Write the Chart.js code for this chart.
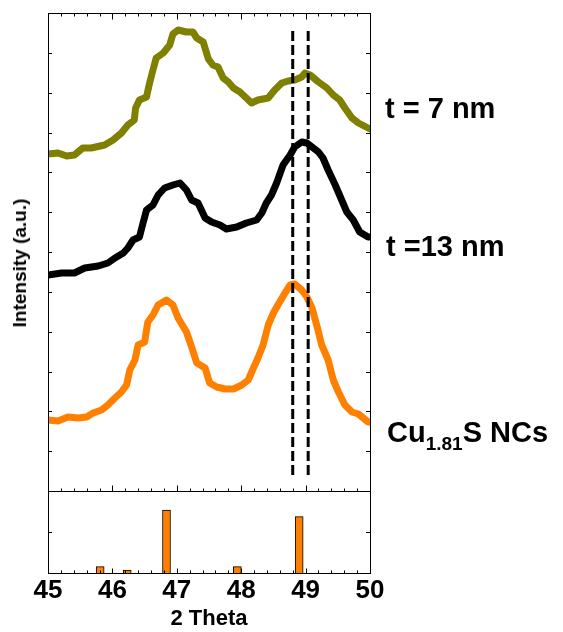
<!DOCTYPE html>
<html>
<head>
<meta charset="utf-8">
<script src="https://cdn.jsdelivr.net/npm/chart.js@4.4.1/dist/chart.umd.min.js"></script>
<style>
  html, body { margin: 0; padding: 0; background: #fff; }
  body { width: 563px; height: 632px; position: relative; overflow: hidden;
         font-family: "Liberation Sans", Arial, sans-serif; }
  #top { position: absolute; left: 0; top: 0; }
  #bot { position: absolute; left: 0; top: 480px; }
  .lbl { position: absolute; font-weight: bold; font-size: 29px; line-height: 28px;
         color: #000; white-space: nowrap; }
  .lbl sub { font-size: 19px; vertical-align: -8px; line-height: 0; }
  #ytitle { position: absolute; left: 20px; top: 263px; font-weight: bold; font-size: 19px;
            line-height: 22px; white-space: nowrap; color: #000;
            transform: translate(-50%, -50%) rotate(-90deg); }
</style>
</head>
<body>
<canvas id="top" width="563" height="496"></canvas>
<canvas id="bot" width="563" height="152"></canvas>
<div id="ytitle">Intensity (a.u.)</div>
<div class="lbl" style="left:385px; top:94px;">t = 7 nm</div>
<div class="lbl" style="left:386px; top:232px;">t =13 nm</div>
<div class="lbl" style="left:387px; top:418px;">Cu<sub>1.81</sub>S NCs</div>
<script>
// ---- data (2 Theta, intensity a.u.) ----
const theta7 = [45.00,45.155,45.29,45.41,45.54,45.67,45.88,46.01,46.14,46.24,46.34,46.36,46.42,46.53,46.57,46.63,46.68,46.79,46.89,46.94,47.02,47.15,47.25,47.31,47.41,47.49,47.56,47.64,47.72,47.80,47.88,47.98,48.08,48.16,48.26,48.42,48.52,48.63,48.73,48.83,48.94,48.99,49.07,49.20,49.33,49.43,49.53,49.61,49.72,49.82,49.97,50.00];
const int7   = [337,338,335,336,343,343,346,351,358,366,371,383,391,394,406,421,433,438,446,457,461,459,459,453,449,432,426,424,413,409,403,399,393,388,391,393,401,408,410,411,414,418,416,409,403,396,391,383,373,368,363,362];

const theta13 = [45.00,45.21,45.41,45.57,45.78,45.93,46.04,46.17,46.24,46.32,46.42,46.48,46.53,46.63,46.71,46.81,46.94,47.05,47.15,47.23,47.33,47.44,47.54,47.67,47.77,47.93,48.08,48.24,48.32,48.39,48.47,48.55,48.65,48.76,48.83,48.94,49.02,49.10,49.20,49.27,49.35,49.46,49.56,49.64,49.74,49.84,49.97,50.00];
const int13   = [216,218,218,223,225,228,233,238,243,251,254,269,281,286,296,303,306,308,301,291,288,273,269,266,262,264,268,271,278,288,296,308,326,336,344,349,348,344,339,333,321,306,291,279,271,259,254,254];

const thetaNC = [45.00,45.155,45.31,45.47,45.60,45.70,45.83,45.93,46.04,46.14,46.22,46.27,46.35,46.40,46.50,46.55,46.63,46.71,46.84,46.94,47.02,47.15,47.23,47.31,47.44,47.51,47.62,47.75,47.88,48.01,48.11,48.19,48.26,48.34,48.42,48.50,48.57,48.68,48.76,48.83,48.94,49.02,49.10,49.18,49.25,49.35,49.43,49.51,49.61,49.72,49.82,49.97,50.00];
const intNC   = [71,70,74,73,74,78,81,86,93,99,106,121,131,146,149,169,176,186,191,186,173,159,144,128,123,108,104,102,102,106,111,123,133,146,166,178,186,198,206,207,201,194,183,164,146,131,111,99,86,79,77,69,69];

const dashTheta = [48.80, 49.04];
const dashRange = [16, 460];

const refTheta = [45.81, 46.23, 46.84, 47.94, 48.90];
const refInt   = [6.3, 3, 63, 6.3, 56.3];

const xTicksMajor = [45, 46, 47, 48, 49, 50];

// ---- helpers ----
const pts = (xs, ys) => xs.map((x, i) => ({ x: x, y: ys[i] }));
const FONT = '"Liberation Sans", Arial, sans-serif';

function drawTicksX(ctx, xs, yPix, dir, major, minor) {
  const lo = xs.min, hi = xs.max;
  for (let k = 0; k <= Math.round((hi - lo) / 0.2); k++) {
    const v = lo + k * 0.2;
    const isMajor = Math.abs(v - Math.round(v)) < 1e-6;
    const px = Math.round(xs.getPixelForValue(v)) + 0.5;
    const len = isMajor ? major : minor;
    ctx.beginPath();
    ctx.moveTo(px, yPix);
    ctx.lineTo(px, yPix + dir * len);
    ctx.stroke();
  }
}
function drawTicksY(ctx, ys, vals, area, len) {
  vals.forEach(v => {
    const py = Math.round(ys.getPixelForValue(v)) + 0.5;
    ctx.beginPath();
    ctx.moveTo(area.left, py); ctx.lineTo(area.left + len, py);
    ctx.moveTo(area.right, py); ctx.lineTo(area.right - len, py);
    ctx.stroke();
  });
}

const framePlugin = {
  id: 'frame',
  afterDraw(chart, args, opts) {
    const { ctx, chartArea: a } = chart;
    const xs = chart.scales.x, ys = chart.scales.y;
    ctx.save();
    ctx.strokeStyle = '#000';
    ctx.lineWidth = 1;
    ctx.strokeRect(Math.round(a.left) + 0.5, Math.round(a.top) + 0.5,
                   Math.round(a.right - a.left), Math.round(a.bottom - a.top));
    if (opts.topTicks) drawTicksX(ctx, xs, Math.round(a.top) + 0.5, 1, opts.major, opts.minor);
    drawTicksX(ctx, xs, Math.round(a.bottom) + 0.5, -1, opts.major, opts.minor);
    drawTicksY(ctx, ys, opts.yTickVals, a, 4);
    ctx.restore();
  }
};

// ---- top panel ----
const yTopMax = 478;
const yTopTicks = [];
for (let k = 1; k < 12; k++) yTopTicks.push(k * yTopMax / 12);

new Chart(document.getElementById('top'), {
  type: 'line',
  data: {
    datasets: [
      { data: pts([dashTheta[0], dashTheta[0]], dashRange), borderColor: '#000', borderWidth: 3,
        borderDash: [10, 4], pointRadius: 0, borderCapStyle: 'butt' },
      { data: pts([dashTheta[1], dashTheta[1]], dashRange), borderColor: '#000', borderWidth: 3,
        borderDash: [10, 4], pointRadius: 0, borderCapStyle: 'butt' },
      { label: 't = 7 nm', data: pts(theta7, int7), borderColor: '#808000', borderWidth: 7,
        pointRadius: 0, borderJoinStyle: 'round', borderCapStyle: 'round' },
      { label: 't =13 nm', data: pts(theta13, int13), borderColor: '#000000', borderWidth: 7,
        pointRadius: 0, borderJoinStyle: 'round', borderCapStyle: 'round' },
      { label: 'Cu1.81S NCs', data: pts(thetaNC, intNC), borderColor: '#FF8000', borderWidth: 7,
        pointRadius: 0, borderJoinStyle: 'round', borderCapStyle: 'round' }
    ]
  },
  options: {
    responsive: false, animation: false, devicePixelRatio: 1,
    layout: { padding: { left: 48, right: 193, top: 13, bottom: 5 } },
    scales: {
      x: { type: 'linear', min: 45, max: 50, display: false },
      y: { type: 'linear', min: 0, max: yTopMax, display: false }
    },
    plugins: {
      legend: { display: false }, tooltip: { enabled: false },
      frame: { topTicks: true, major: 6, minor: 3, yTickVals: yTopTicks }
    }
  },
  plugins: [framePlugin]
});

// ---- bottom panel (reference pattern) ----
const yBotMax = 82;
new Chart(document.getElementById('bot'), {
  type: 'bar',
  data: {
    datasets: [{
      data: pts(refTheta, refInt),
      backgroundColor: '#FF8000', borderColor: '#000', borderWidth: 1,
      barThickness: 8, borderSkipped: 'bottom'
    }]
  },
  options: {
    responsive: false, animation: false, devicePixelRatio: 1,
    layout: { padding: { left: 48, right: 193, top: 11, bottom: 0 } },
    scales: {
      x: {
        type: 'linear', min: 45, max: 50, offset: false,
        grid: { display: false, drawTicks: false },
        border: { display: false },
        afterBuildTicks: s => { s.ticks = xTicksMajor.map(v => ({ value: v })); },
        afterFit: s => { s.height = 59; },
        ticks: { color: '#000', padding: 2, font: { family: FONT, size: 26, weight: 'bold' } },
        title: { display: true, text: '2 Theta', color: '#000', padding: { top: 0, bottom: 0 },
                 font: { family: FONT, size: 22, weight: 'bold', lineHeight: 1.2 } }
      },
      y: { type: 'linear', min: 0, max: yBotMax, display: false }
    },
    plugins: {
      legend: { display: false }, tooltip: { enabled: false },
      frame: { topTicks: false, major: 5, minor: 3, yTickVals: [yBotMax / 2] }
    }
  },
  plugins: [framePlugin]
});
</script>
</body>
</html>
